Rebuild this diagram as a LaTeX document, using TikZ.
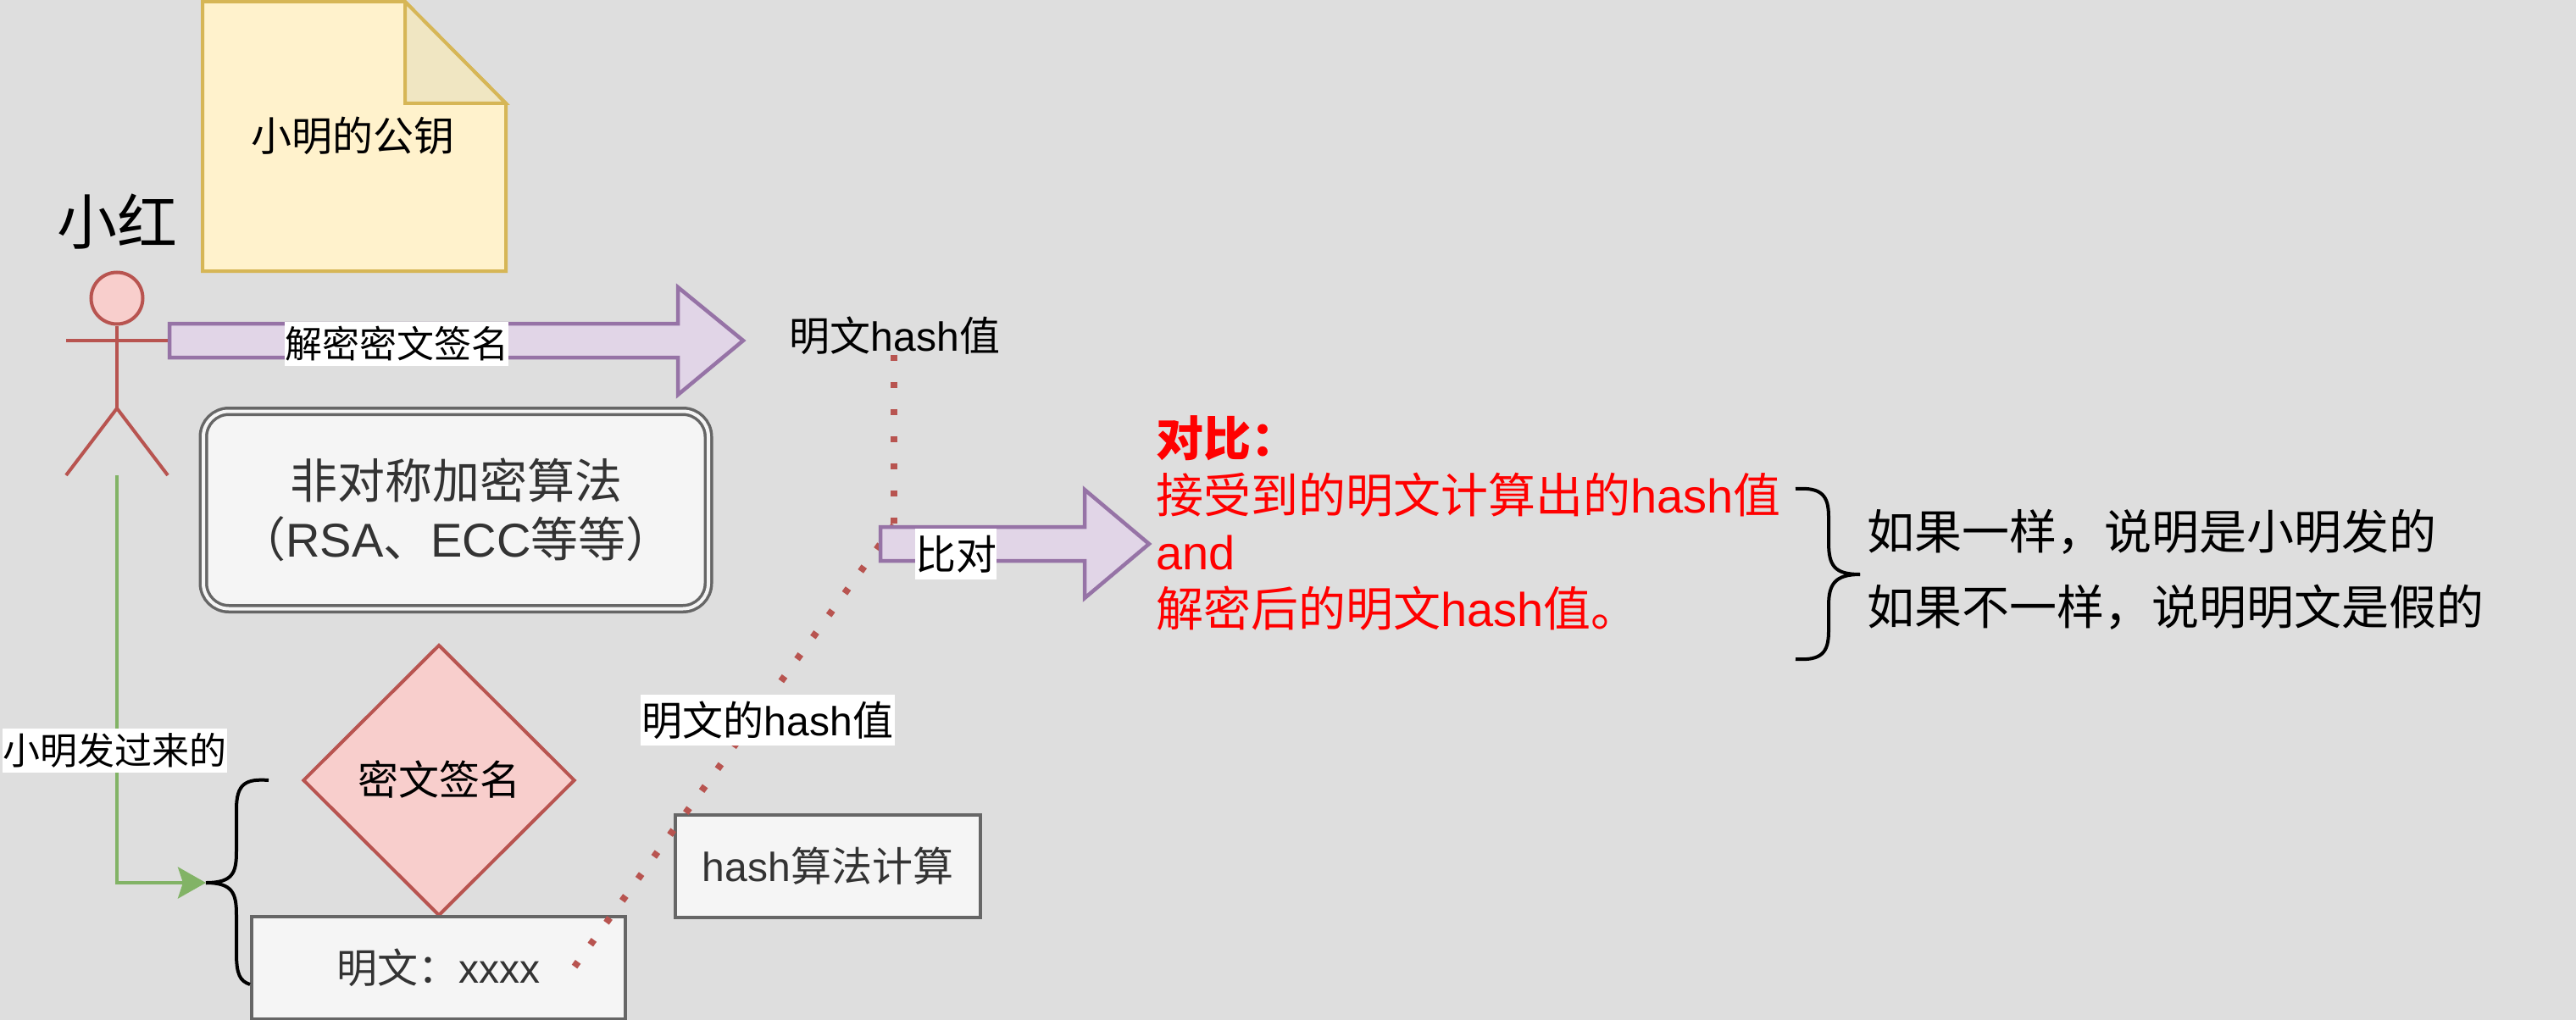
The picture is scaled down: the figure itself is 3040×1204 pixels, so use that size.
\documentclass[tikz,border=0pt]{standalone}
\usepackage{fontspec}
\setmainfont{Noto Sans CJK SC}
\newfontfamily\lat{Liberation Sans}
\usetikzlibrary{shapes,arrows.meta,calc,positioning}
\definecolor{bggray}{HTML}{DEDEDE}
\definecolor{boxfill}{HTML}{F5F5F5}
\definecolor{boxline}{HTML}{666666}
\definecolor{boxtext}{HTML}{333333}
\definecolor{notefill}{HTML}{FFF2CC}
\definecolor{notefold}{HTML}{F0E6C2}
\definecolor{noteline}{HTML}{D6B656}
\definecolor{redfill}{HTML}{F8CECC}
\definecolor{redline}{HTML}{B85450}
\definecolor{purplefill}{HTML}{E1D5E7}
\definecolor{purpleline}{HTML}{9673A6}
\definecolor{greenline}{HTML}{82B366}
\tikzset{
    txt/.style = {inner sep=0pt, font=\fontsize{48}{58}\selectfont},
    greybox/.style = {rectangle, draw=boxline, fill=boxfill, text=boxtext, line width=4pt, inner sep=0pt, font=\fontsize{48}{58}\selectfont},
    algobox/.style = {greybox, rounded corners=30pt, double=boxfill, double distance=4pt, line width=3.5pt, align=center, font=\fontsize{56}{69}\selectfont},
    bigarrow/.style = {draw=purpleline, fill=purplefill, line width=4.5pt, miter limit=10},
    tag/.style = {fill=white, inner sep=0pt, font=\fontsize{48}{58}\selectfont},
    stick/.style = {draw=redline, line width=4pt},
    bracket/.style = {draw=black, line width=4pt},
    hashline/.style = {draw=redline, line width=8pt, dash pattern=on 7pt off 25pt},
    recvline/.style = {draw=greenline, line width=4pt, -{Stealth[length=33pt,width=37pt,inset=6pt]}}
}
\begin{document}
\begin{tikzpicture}[x=1pt,y=-1pt]
    \useasboundingbox[fill=bggray] (0,0) rectangle (3040,1204);

    % public key note
    \draw[draw=noteline, fill=notefill, line width=4pt] (239,2) -- (478,2) -- (597,122) -- (597,320) -- (239,320) -- cycle;
    \draw[draw=noteline, fill=notefold, line width=4pt] (478,2) -- (597,122) -- (478,122) -- cycle;
    \node[txt] (key) at (416,160) {小明的公钥};

    % actor
    \node[txt, font=\fontsize{71}{85}\selectfont] (name) at (138,262) {小红};
    \node[circle, stick, fill=redfill, minimum size=61pt, inner sep=0pt] (head) at (138,352) {};
    \coordinate (hip) at (138,482);
    \coordinate (handl) at (78,402);
    \coordinate (handr) at (198,402);
    \coordinate (footl) at (78,561);
    \coordinate (footr) at (198,561);
    \draw[stick] (head) -- (hip);
    \draw[stick] (handl) -- (handr);
    \draw[stick] (footl) -- (hip) -- (footr);

    % decrypt arrow
    \draw[bigarrow] (200,382) -- (800,382) -- (800,339) -- (877,402) -- (800,466) -- (800,422) -- (200,422) -- cycle;
    \node[tag, font=\fontsize{44}{52}\selectfont, minimum width=264pt, minimum height=52pt] (decrypt) at (468,406) {解密密文签名};
    \node[txt, minimum height=34pt] (hashval) at (1056,396) {明文{\lat hash}值};

    \node[algobox, minimum width=596pt, minimum height=233pt] (algo) at (538,602) {非对称加密算法\\（{\lat RSA}、{\lat ECC}等等）};

    % received parts
    \node[diamond, draw=redline, fill=redfill, line width=4pt, minimum width=321pt, minimum height=320pt, inner sep=0pt, aspect=1] (sign) at (518,921) {};
    \node[txt] (signtxt) at (518,920) {密文签名};
    \node[greybox, minimum width=441pt, minimum height=121pt] (plain) at (517,1142) {明文：{\lat xxxx}};
    \node[greybox, minimum width=360pt, minimum height=121pt] (algohash) at (977,1022) {{\lat hash}算法计算};

    % brace left
    \draw[bracket] (317,921) .. controls (290,919) and (279,925) .. (279,955) -- (279,1005) .. controls (279,1030) and (275,1042) .. (243,1042);
    \draw[bracket] (243,1042) .. controls (275,1042) and (279,1055) .. (279,1080) -- (279,1125) .. controls (279,1150) and (283,1158) .. (295,1162);

    \coordinate (recv) at (243,1042);
    \draw[recvline] (138,561) |- (recv);
    \node[tag, font=\fontsize{44}{52}\selectfont, minimum width=265pt, minimum height=52pt] (sent) at (135,886) {小明发过来的};

    % dotted hash connector
    \coordinate (dotstart) at (678,1141);
    \coordinate (dotbend) at (1055,620);
    \draw[hashline] (dotstart) -- (dotbend);
    \draw[hashline] (hashval.south -| dotbend) -- (dotbend);

    \node[tag, minimum width=300pt, minimum height=60pt] (plainhash) at (906,850) {明文的{\lat hash}值};

    % compare arrow
    \draw[bigarrow] (1039,622) -- (1280,622) -- (1280,578) -- (1356,642) -- (1280,706) -- (1280,662) -- (1039,662) -- cycle;
    \node[tag, minimum width=96pt, minimum height=60pt] (compare) at (1128,654) {比对};

    % result
    \node[txt, text=red, align=left, anchor=west, font=\fontsize{56}{67}\selectfont] (result) at (1364,617) {{\bfseries 对比：}\\接受到的明文计算出的{\lat hash}值\\{\lat and}\\解密后的明文{\lat hash}值。};

    \draw[bracket] (2119,577) .. controls (2150,575) and (2158,585) .. (2158,610) -- (2158,640) .. controls (2158,668) and (2165,678) .. (2195,678);
    \draw[bracket] (2195,678) .. controls (2165,678) and (2158,690) .. (2158,715) -- (2158,745) .. controls (2158,770) and (2150,780) .. (2119,778);

    \node[txt, align=left, anchor=west, font=\fontsize{56}{89}\selectfont] (verdict) at (2203,672) {如果一样，说明是小明发的\\如果不一样，说明明文是假的};
\end{tikzpicture}
\end{document}
